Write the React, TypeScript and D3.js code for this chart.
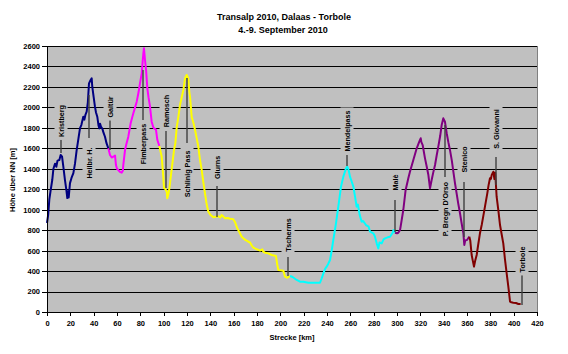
import React, { useEffect, useRef } from 'react'
import * as d3 from 'd3'

type Pt = [number, number]

// [km, Höhe m] per Etappe
const etappe1: Pt[] = [
    [0, 870], [1, 950], [2, 1100], [3, 1180], [4.5, 1290], [5.5, 1400], [6.9, 1450], [8, 1420], [9, 1480],
    [10.6, 1486], [11.7, 1535], [12.9, 1518], [14, 1420], [15.4, 1290], [16.5, 1200], [17.4, 1114], [18, 1180],
    [18.6, 1120], [19.7, 1260], [21, 1310], [22.6, 1357], [24, 1450], [25.4, 1580], [27, 1700], [28.3, 1798],
    [29.5, 1830], [31.1, 1909], [32, 1880], [33, 1930], [34, 1958], [35, 2050], [36, 2235], [37.4, 2268],
    [38.3, 2284], [38.8, 2202], [40, 2100], [41.1, 2007], [42, 1950], [43.1, 1909], [44.2, 1820], [44.9, 1795],
    [45.5, 1840], [46.3, 1811], [47.5, 1790], [48.5, 1750], [49.7, 1713], [51, 1650], [52.6, 1600],
]
const etappe2: Pt[] = [
    [52.6, 1600], [54, 1535], [55.5, 1510], [56.8, 1518], [58.3, 1530], [59.1, 1437], [60, 1400], [61.1, 1388],
    [62.5, 1370], [64, 1362], [65, 1380], [65.4, 1437], [66.9, 1584], [68, 1640], [69.7, 1714], [71.7, 1844],
    [73, 1900], [74, 1942], [75.5, 2000], [76.9, 2056], [78.5, 2150], [79.7, 2235], [81.2, 2333], [82, 2450],
    [82.6, 2529], [83.1, 2578], [84, 2463], [84.9, 2366], [86, 2187], [87, 2100], [88.3, 2007], [89.7, 1860],
    [91.1, 1805], [92.3, 1790], [93.4, 1782], [94.6, 1681], [96.3, 1622],
]
const etappe3: Pt[] = [
    [96.3, 1622], [97.5, 1560], [98.3, 1518], [99.7, 1320], [100.3, 1209], [101.1, 1209], [102.6, 1176],
    [103.1, 1111], [104, 1150], [104.9, 1209], [105.4, 1258], [106.9, 1400], [108.9, 1584], [110, 1650],
    [111.2, 1805], [112.5, 1900], [114, 2023], [115.5, 2100], [116.9, 2170], [118.3, 2284], [119.7, 2317],
    [121.1, 2284], [122, 2150], [122.6, 2105], [124, 1909], [125.5, 1850], [126.9, 1779], [128.3, 1700],
    [129.7, 1616], [131, 1500], [132.6, 1388], [134, 1270], [135.4, 1160], [136.9, 1050], [138.3, 980],
    [140, 950], [142.6, 926], [144.5, 930], [146.9, 935], [148.5, 925], [149.7, 948], [151, 935], [152.6, 916],
    [155, 918], [157, 912], [159.7, 906], [161.1, 880], [163.1, 818], [164.5, 790], [166.9, 736], [168.3, 720],
    [170, 705], [172.6, 687], [174, 680], [175.5, 650], [176.9, 630], [179.7, 613], [181, 608], [182.6, 600],
    [184.6, 612], [185.4, 589], [186.9, 580], [189.7, 573], [192.6, 557], [194.5, 552], [196.3, 547],
    [197.4, 459], [198.3, 410], [200, 408], [202.6, 404], [204, 345], [206, 335], [208.3, 352],
]
const etappe4: Pt[] = [
    [208.3, 352], [210, 345], [212, 330], [214, 313], [216.9, 296], [219.7, 296], [224, 286], [229, 286],
    [234, 286], [235.5, 330], [236.9, 378], [238.3, 420], [239.7, 443], [241, 470], [242.6, 508], [244, 600],
    [245.4, 704], [247.7, 867], [249.7, 1030], [252, 1225], [254, 1323], [256.3, 1404], [257.4, 1420],
    [258.5, 1390], [259.7, 1323], [261, 1280], [262.6, 1225], [264, 1130], [265.4, 1030], [266.5, 1050],
    [268, 950], [269.7, 883], [271, 890], [273.4, 850], [275.7, 834], [276.9, 785], [279.7, 769], [281, 740],
    [282.6, 671], [284, 622], [285, 680], [286.9, 671], [288.5, 710], [289.7, 720], [292, 730], [294, 736],
    [296, 770], [297, 801], [298.3, 775],
]
const etappe5: Pt[] = [
    [298.3, 775], [300, 770], [301.1, 775], [302.6, 801], [303.1, 834], [305.4, 997], [307.4, 1193],
    [309.7, 1307], [311.1, 1371], [314, 1486], [316.9, 1600], [319.1, 1665], [320.3, 1698], [320.9, 1660],
    [322, 1632], [324, 1502], [325.5, 1420], [326.9, 1339], [328.3, 1209], [329.7, 1290], [331, 1360],
    [332.6, 1437], [334, 1530], [335.4, 1616], [337, 1720], [338.3, 1828], [339.7, 1893], [341.1, 1860],
    [342.6, 1747], [344, 1660], [345.4, 1584], [347, 1480], [348.3, 1371], [349.7, 1260], [351.1, 1160],
    [352.5, 1060], [354, 965], [355.5, 860], [356.9, 769], [357.7, 655], [358.5, 700], [360, 704], [362, 736],
]
const etappe6: Pt[] = [
    [362, 736], [362.8, 700], [364, 557], [365, 500], [366, 443], [367, 500], [368.3, 557], [369.5, 650],
    [371.1, 769], [372.6, 850], [374, 940], [375.4, 1030], [377.4, 1160], [378.5, 1240], [379.7, 1307],
    [380.5, 1300], [381.2, 1340], [382.6, 1371], [383.5, 1300], [384.2, 1360], [385.4, 1127], [386.8, 1000],
    [388.3, 850], [389.7, 760], [391.1, 671], [392.5, 520], [394, 378], [395.5, 240], [396.9, 101], [398, 95],
    [399.7, 91], [402, 88], [404, 78], [406, 78],
]

const etappen = [etappe1, etappe2, etappe3, etappe4, etappe5, etappe6]
const etappenFarben = ["#000080", "#ff00ff", "#ffff00", "#00ffff", "#800080", "#800000"]

// Orte: Name, km, Mitte der Beschriftung (m), Hinweislinie von/bis (m)
const ortNamen = ["Kristberg", "Heilbr. H.", "Galtür", "Fimberpass", "Ramosch", "Schlinig Pass", "Glurns",
    "Tscherms", "Mendelpass", "Malè", "P. Bregn D'Orso", "Stenico", "S. Giovanni", "Torbole"]
const ortKm = [11.6, 36.4, 54, 82.7, 102.4, 119.7, 145.3, 206.8, 257.4, 298, 341.1, 357.7, 384.6, 406.9]
const ortLabelHoehe = [1867, 1456, 2004, 1642, 1965, 1349, 1413, 753, 1769, 1266, 1007, 1491, 1789, 513]
const ortLinie: [number, number][] = [
    [1700, 1554], [1700, 2121], [1886, 1583], [1877, 2366], [1769, 1212], [1652, 2287], [1232, 929],
    [538, 352], [1535, 1427], [1095, 782], [1320, 1828], [1271, 733], [1515, 1241], [362, 68],
]

const yTicks = d3.range(0, 2601, 200)
const xTicks = d3.range(0, 421, 20)

export default function App() {
    const svgRef = useRef<SVGSVGElement>(null)
    const width = 568
    const height = 354

    useEffect(() => {
        if (!svgRef.current) return
        const svg = d3.select(svgRef.current)
        svg.selectAll("*").remove()

        const font = "'Liberation Sans', Arial, sans-serif"
        const x = d3.scaleLinear().domain([0, 420]).range([47, 537])
        const y = d3.scaleLinear().domain([0, 2600]).range([312, 46])

        // Plotfläche
        svg.append("rect")
            .attr("x", x(0)).attr("y", y(2600))
            .attr("width", x(420) - x(0)).attr("height", y(0) - y(2600))
            .attr("fill", "#c0c0c0")
            .attr("stroke", "#808080")
            .attr("shape-rendering", "crispEdges")

        // Gitterlinien
        svg.append("g").selectAll("line")
            .data(yTicks.filter(d => d > 0))
            .enter().append("line")
            .attr("x1", x(0)).attr("x2", x(420))
            .attr("y1", d => Math.round(y(d)) + 0.5).attr("y2", d => Math.round(y(d)) + 0.5)
            .attr("stroke", "#000")
            .attr("stroke-width", 1)

        // Höhenprofil
        const line = d3.line<Pt>().x(d => x(d[0])).y(d => y(d[1]))
        etappen.forEach((e, i) => {
            svg.append("path")
                .datum(e)
                .attr("d", line)
                .attr("fill", "none")
                .attr("stroke", etappenFarben[i])
                .attr("stroke-width", 2)
                .attr("stroke-linejoin", "round")
        })

        // Orte
        const orte = svg.append("g")
        ortNamen.forEach((name, i) => {
            const cx = Math.round(x(ortKm[i]))
            orte.append("line")
                .attr("x1", cx).attr("x2", cx)
                .attr("y1", y(ortLinie[i][0])).attr("y2", y(ortLinie[i][1]))
                .attr("stroke", "#404040")
                .attr("stroke-width", 1.4)
            const g = orte.append("g")
                .attr("transform", `translate(${cx},${y(ortLabelHoehe[i])}) rotate(-90)`)
            const t = g.append("text")
                .attr("x", 0).attr("y", 0)
                .attr("dy", "0.35em")
                .attr("text-anchor", "middle")
                .attr("font-family", font)
                .attr("font-weight", "bold")
                .attr("font-size", "7.2px")
                .attr("fill", "#000")
                .text(name)
            const bb = (t.node() as SVGTextElement).getBBox()
            g.insert("rect", "text")
                .attr("x", bb.x - 3).attr("y", bb.y - 2)
                .attr("width", bb.width + 6).attr("height", bb.height + 4)
                .attr("fill", "#c0c0c0")
        })

        // Achsen
        const yAxis = svg.append("g")
            .attr("transform", `translate(${x(0)},0)`)
            .call(d3.axisLeft(y).tickValues(yTicks).tickFormat(d3.format("d")).tickSize(5).tickSizeOuter(0).tickPadding(2))
        const xAxis = svg.append("g")
            .attr("transform", `translate(0,${y(0)})`)
            .call(d3.axisBottom(x).tickValues(xTicks).tickFormat(d3.format("d")).tickSize(4).tickSizeOuter(0).tickPadding(5))
        ;[yAxis, xAxis].forEach(a => {
            a.attr("color", "#000")
                .attr("font-family", font)
                .attr("font-weight", "bold")
                .attr("font-size", "7.5px")
            a.selectAll("line, path").attr("stroke-width", 1).attr("shape-rendering", "crispEdges")
        })

        svg.append("text")
            .attr("x", 292).attr("y", 340)
            .attr("text-anchor", "middle")
            .attr("font-family", font).attr("font-weight", "bold").attr("font-size", "7.5px")
            .text("Strecke [km]")

        svg.append("text")
            .attr("transform", `translate(15,180) rotate(-90)`)
            .attr("text-anchor", "middle")
            .attr("font-family", font).attr("font-weight", "bold").attr("font-size", "7.5px")
            .text("Höhe über NN [m]")

        // Titel
        svg.append("text")
            .attr("x", 284).attr("y", 20)
            .attr("text-anchor", "middle")
            .attr("font-family", font).attr("font-weight", "bold").attr("font-size", "9px")
            .text("Transalp 2010, Dalaas - Torbole")
        svg.append("text")
            .attr("x", 283).attr("y", 33)
            .attr("text-anchor", "middle")
            .attr("font-family", font).attr("font-weight", "bold").attr("font-size", "9px")
            .text("4.-9. September 2010")
    }, [])

    return (
        <svg ref={svgRef} width={width} height={height} viewBox={`0 0 ${width} ${height}`}
            style={{ position: "absolute", left: 0, top: 0, background: "#fff" }} />
    )
}
